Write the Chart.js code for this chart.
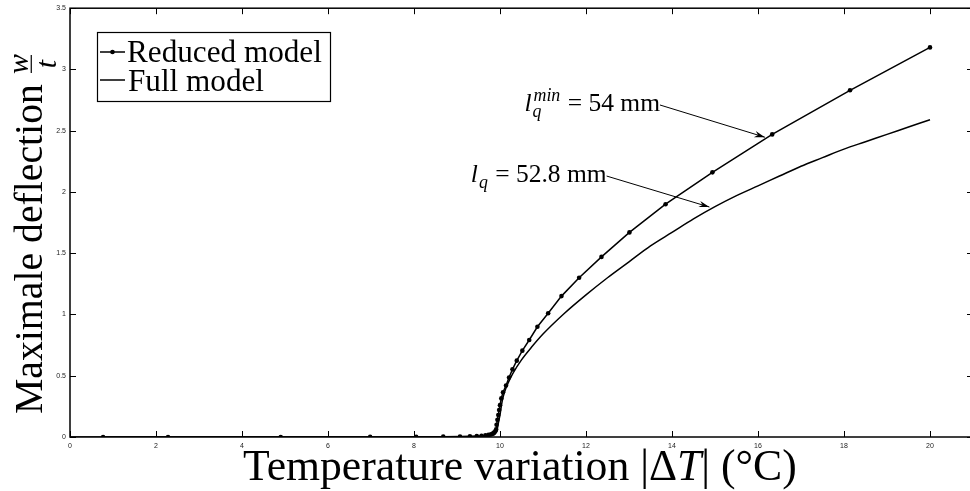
<!DOCTYPE html>
<html>
<head>
<meta charset="utf-8">
<script src="https://cdn.jsdelivr.net/npm/chart.js@4.4.0/dist/chart.umd.min.js"></script>
<style>
  html, body { margin: 0; padding: 0; background: #fff; overflow: hidden; }
  #wrap { position: absolute; left: 0; top: 0; width: 980px; height: 491px; }
</style>
</head>
<body>
<div id="wrap"><canvas id="chartCanvas"></canvas></div>
<script>
// Reduced model (line with dot markers)
const reducedX = [0.77, 2.28, 4.90, 6.98, 8.05, 8.68, 9.07, 9.30, 9.46, 9.57, 9.66, 9.73, 9.79, 9.83, 9.86,
  9.89, 9.91, 9.92, 9.94, 9.96, 9.98, 10.00, 10.03, 10.07, 10.14, 10.21, 10.29, 10.39, 10.52, 10.68,
  10.87, 11.12, 11.43, 11.84, 12.36, 13.01, 13.85, 14.94, 16.33, 18.14, 20.00];
const reducedY = [0, 0, 0, 0.001, 0.002, 0.003, 0.004, 0.006, 0.008, 0.010, 0.013, 0.017, 0.022, 0.028, 0.036,
  0.047, 0.062, 0.10, 0.14, 0.18, 0.22, 0.26, 0.315, 0.365, 0.42, 0.486, 0.552, 0.623, 0.705, 0.792,
  0.90, 1.01, 1.15, 1.30, 1.47, 1.67, 1.90, 2.16, 2.47, 2.83, 3.18];

// Full model (plain line)
const fullX = [0, 9.0, 9.5, 9.75, 9.85, 9.90, 9.93, 9.96, 10.0, 10.05, 10.1, 10.2, 10.3, 10.5,
  10.75, 11.0, 11.5, 12.0, 12.5, 13.0, 13.5, 14.0, 14.5, 15.0, 15.5, 16.0, 16.5, 17.0, 17.5,
  18.0, 18.5, 19.0, 19.5, 20.0];
const fullY = [0, 0.001, 0.003, 0.007, 0.015, 0.03, 0.055, 0.11, 0.18, 0.29, 0.36, 0.45, 0.52, 0.63,
  0.74, 0.84, 1.01, 1.16, 1.30, 1.43, 1.56, 1.67, 1.78, 1.88, 1.97, 2.05, 2.13, 2.21, 2.28,
  2.35, 2.41, 2.47, 2.53, 2.59];

// Axes
const xMin = 0, xMax = 21, xStep = 2;
const yMin = 0, yMax = 3.5, yStep = 0.5;

// Texts
const legendLabels = ["Reduced model", "Full model"];
const xTitleRuns = [{text: "Temperature variation |\u0394"}, {text: "T", italic: true}, {text: "| (\u00B0C)"}];
const yTitleText = "Maximale deflection";
const annotationLabels = [
  {sup: "min", value: " = 54 mm"},
  {sup: "", value: " = 52.8 mm"}
];

const SERIF = '"Liberation Serif", "Times New Roman", serif';

// arrows of the annotations, start (text end) and tip, in data units
const annotationArrows = [
  {from: [13.72, 2.71], to: [16.16, 2.447]},
  {from: [12.48, 2.13], to: [14.87, 1.877]}
];

function setFont(ctx, size, italic)
{
  ctx.font = (italic ? "italic " : "") + size + "px " + SERIF;
}

function measureRuns(ctx, runs, size)
{
  let w = 0;
  for(let i = 0; i < runs.length; i++)
  {
    setFont(ctx, size * (runs[i].scale || 1), runs[i].italic);
    w += ctx.measureText(runs[i].text).width + (runs[i].dx || 0);
  }
  return w;
}

function drawRuns(ctx, runs, x, y, size)
{
  ctx.textAlign = "left";
  ctx.textBaseline = "alphabetic";
  for(let i = 0; i < runs.length; i++)
  {
    let r = runs[i];
    setFont(ctx, size * (r.scale || 1), r.italic);
    ctx.fillText(r.text, x + (r.dx || 0), y + (r.dy || 0) * size);
    x += ctx.measureText(r.text).width + (r.dx || 0);
  }
  return x;
}

// font size so that the runs take the given width
function fitSize(ctx, runs, width)
{
  return 40 * width / measureRuns(ctx, runs, 40);
}

function drawArrow(ctx, x1, y1, x2, y2)
{
  ctx.beginPath();
  ctx.moveTo(x1, y1);
  ctx.lineTo(x2, y2);
  ctx.stroke();
  let a = Math.atan2(y2 - y1, x2 - x1);
  let len = 11, spread = 0.3;
  ctx.beginPath();
  ctx.moveTo(x2, y2);
  ctx.lineTo(x2 - len * Math.cos(a - spread), y2 - len * Math.sin(a - spread));
  ctx.lineTo(x2 - 0.65 * len * Math.cos(a), y2 - 0.65 * len * Math.sin(a));
  ctx.lineTo(x2 - len * Math.cos(a + spread), y2 - len * Math.sin(a + spread));
  ctx.closePath();
  ctx.fill();
}

const decorPlugin = {
  id: "decor",
  afterDraw(chart)
  {
    const ctx = chart.ctx;
    const area = chart.chartArea;
    const xs = chart.scales.x, ys = chart.scales.y;
    ctx.save();
    ctx.fillStyle = "#000";
    ctx.strokeStyle = "#000";

    // box
    ctx.lineWidth = 1.5;
    ctx.strokeRect(area.left, area.top, area.right - area.left, area.bottom - area.top);

    // inward ticks on the four sides
    ctx.lineWidth = 1;
    const tl = 6;
    ctx.beginPath();
    xs.ticks.forEach(t => {
      let px = Math.round(xs.getPixelForValue(t.value)) + 0.5;
      ctx.moveTo(px, area.bottom); ctx.lineTo(px, area.bottom - tl);
      ctx.moveTo(px, area.top); ctx.lineTo(px, area.top + tl);
    });
    ys.ticks.forEach(t => {
      let py = Math.round(ys.getPixelForValue(t.value)) + 0.5;
      ctx.moveTo(area.left, py); ctx.lineTo(area.left + tl, py);
      ctx.moveTo(area.right, py); ctx.lineTo(area.right - tl, py);
    });
    ctx.stroke();

    // x title
    let size = fitSize(ctx, xTitleRuns, 554);
    drawRuns(ctx, xTitleRuns, 243, 480, size);

    // y title, rotated, with w/t fraction
    ctx.save();
    ctx.translate(42, 414);
    ctx.rotate(-Math.PI / 2);
    let yRuns = [{text: yTitleText}];
    size = fitSize(ctx, yRuns, 330);
    let endX = drawRuns(ctx, yRuns, 0, 0, size);
    let fx = endX + 20;
    let axisY = -0.27 * size;
    ctx.lineWidth = 1.2;
    ctx.beginPath();
    ctx.moveTo(fx - 9, axisY); ctx.lineTo(fx + 9, axisY);
    ctx.stroke();
    setFont(ctx, size * 0.75, true);
    ctx.textAlign = "center";
    ctx.textBaseline = "alphabetic";
    ctx.fillText("w", fx, axisY - 3);
    ctx.textBaseline = "top";
    ctx.fillText("t", fx, axisY + 2);
    ctx.restore();

    // legend
    ctx.fillStyle = "#fff";
    ctx.fillRect(97, 32, 233, 70);
    ctx.fillStyle = "#000";
    ctx.lineWidth = 1.2;
    ctx.strokeRect(97.5, 32.5, 233, 69);
    ctx.lineWidth = 1.5;
    ctx.beginPath();
    ctx.moveTo(100, 52); ctx.lineTo(125, 52);
    ctx.moveTo(100, 80); ctx.lineTo(125, 80);
    ctx.stroke();
    ctx.beginPath();
    ctx.arc(112.5, 52, 2.3, 0, Math.PI * 2);
    ctx.fill();
    size = fitSize(ctx, [{text: legendLabels[0]}], 195);
    drawRuns(ctx, [{text: legendLabels[0]}], 127, 62, size);
    drawRuns(ctx, [{text: legendLabels[1]}], 128, 91, size);

    // annotations
    ctx.lineWidth = 1;
    annotationArrows.forEach((a, i) => {
      let x1 = xs.getPixelForValue(a.from[0]), y1 = ys.getPixelForValue(a.from[1]);
      let x2 = xs.getPixelForValue(a.to[0]), y2 = ys.getPixelForValue(a.to[1]);
      drawArrow(ctx, x1, y1, x2, y2);
      let lab = annotationLabels[i];
      let fs = 25.5;
      let runs = [{text: "l", italic: true}, {text: "q", italic: true, scale: 0.7, dy: 0.22, dx: 1}];
      if(lab.sup)
      {
        runs.push({text: lab.sup, italic: true, scale: 0.7, dy: -0.4, dx: -8});
      }
      runs.push({text: lab.value, dx: 1});
      let w = measureRuns(ctx, runs, fs);
      drawRuns(ctx, runs, x1 - w, y1 + 6, fs);
    });

    ctx.restore();
  }
};

function toPoints(xs, ys)
{
  let pts = [];
  for(let i = 0; i < xs.length; i++)
  {
    pts.push({x: xs[i], y: ys[i]});
  }
  return pts;
}

const tickFont = {family: '"Liberation Sans", Arial, sans-serif', size: 7};

new Chart(document.getElementById("chartCanvas"), {
  type: "line",
  data: {
    datasets: [
      {
        label: legendLabels[0],
        data: toPoints(reducedX, reducedY),
        borderColor: "#000",
        backgroundColor: "#000",
        borderWidth: 1.5,
        pointRadius: 2.3,
        pointBorderWidth: 0,
        pointBackgroundColor: "#000",
        tension: 0
      },
      {
        label: legendLabels[1],
        data: toPoints(fullX, fullY),
        borderColor: "#000",
        borderWidth: 1.5,
        pointRadius: 0,
        cubicInterpolationMode: "monotone"
      }
    ]
  },
  options: {
    responsive: true,
    maintainAspectRatio: false,
    animation: false,
    layout: {padding: {top: 8, right: 7, left: 0, bottom: 0}},
    plugins: {legend: {display: false}, tooltip: {enabled: false}},
    scales: {
      x: {
        type: "linear",
        min: xMin, max: xMax,
        grid: {display: false, drawTicks: false},
        border: {display: false},
        ticks: {stepSize: xStep, includeBounds: false, padding: 5, font: tickFont, color: "#222", maxRotation: 0,
          callback: v => String(v)},
        afterFit: scale => { scale.height = 54; }
      },
      y: {
        min: yMin, max: yMax,
        grid: {display: false, drawTicks: false},
        border: {display: false},
        ticks: {stepSize: yStep, padding: 4, font: tickFont, color: "#222", callback: v => String(v)},
        afterFit: scale => { scale.width = 70; }
      }
    }
  },
  plugins: [decorPlugin]
});
</script>
</body>
</html>
